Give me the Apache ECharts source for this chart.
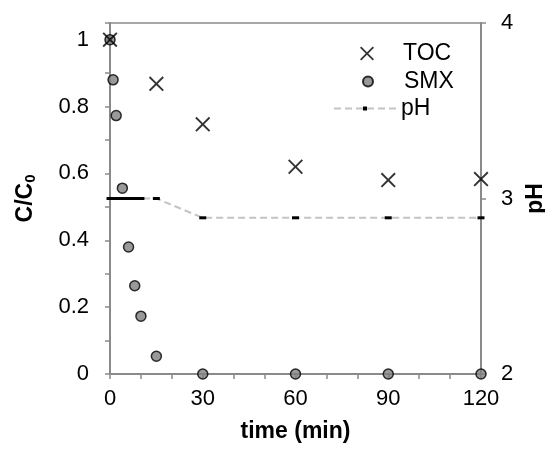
<!DOCTYPE html>
<html>
<head>
<meta charset="utf-8">
<script src="https://cdn.jsdelivr.net/npm/echarts@6/dist/echarts.min.js"></script>
<style>
html,body{margin:0;padding:0;background:#fff;}
#chart{width:545px;height:452px;}
</style>
</head>
<body>
<div id="chart"></div>
<script>
// ---- data ----
const tocTime = [0, 15, 30, 60, 90, 120];
const tocValues = [1.0, 0.868, 0.747, 0.62, 0.58, 0.583];
const smxTime = [0, 1, 2, 4, 6, 8, 10, 15, 30, 60, 90, 120];
const smxValues = [1.0, 0.88, 0.773, 0.556, 0.38, 0.264, 0.173, 0.053, 0, 0, 0, 0];
const phTime = [0, 1, 2, 4, 6, 8, 10, 15, 30, 60, 90, 120];
const phValues = [3.0, 3.0, 3.0, 3.0, 3.0, 3.0, 3.0, 3.0, 2.89, 2.89, 2.89, 2.89];
const xLabelStep = 30;   // x labels every 30 min
const xTickStep = 10;    // x ticks every 10 min
const yLabelStep = 0.2;  // left labels every 0.2
const yTickStep = 0.1;   // left ticks every 0.1

const pairs = (xs, ys) => xs.map((x, i) => [x, ys[i]]);

const FONT = '"Liberation Sans", Arial, sans-serif';
const AXIS = '#8a8a8a';
const XPATH = 'path://M0,9L9,0L50,41L91,0L100,9L59,50L100,91L91,100L50,59L9,100L0,91L41,50Z';
const G = {left: 110, right: 64, top: 23, bottom: 78};

const lineAxis = (extra) => Object.assign({
  type: 'value',
  axisLine: {show: true, onZero: false, lineStyle: {color: AXIS, width: 2}},
  axisTick: {show: true, length: 5, lineStyle: {color: AXIS, width: 1.5}},
  axisLabel: {show: false},
  splitLine: {show: false}
}, extra);
const labelAxis = (extra, labelExtra) => Object.assign({
  type: 'value', gridIndex: 1,
  axisLine: {show: false, onZero: false},
  axisTick: {show: false},
  axisLabel: Object.assign({color: '#000', fontSize: 22, fontFamily: FONT}, labelExtra),
  splitLine: {show: false}
}, extra);
const nameStyle = {fontFamily: FONT, fontSize: 23, fontWeight: 'bold', color: '#000'};

const chart = echarts.init(document.getElementById('chart'), null, {renderer: 'canvas'});
const legendText = {fontFamily: FONT, fontSize: 23, color: '#000'};
chart.setOption({
  animation: false,
  grid: [
    Object.assign({show: true, borderColor: AXIS, borderWidth: 1.5, outerBoundsMode: 'none'}, G),
    Object.assign({show: false, outerBoundsMode: 'none'}, G)
  ],
  legend: [
    {data: [{name: 'TOC', icon: XPATH}], left: 360, top: 42, padding: 0, itemWidth: 62, itemHeight: 14, textStyle: legendText, selectedMode: false},
    {data: ['SMX'], left: 362, top: 70, padding: 0, itemWidth: 62, itemHeight: 10, textStyle: legendText, selectedMode: false},
    {data: ['pH'], left: 333, top: 97, padding: 0, itemWidth: 62, itemHeight: 5, textStyle: legendText, selectedMode: false}
  ],
  xAxis: [
    lineAxis({gridIndex: 0, min: 0, max: 120, interval: xTickStep}),
    labelAxis({min: 0, max: 120, interval: xLabelStep, position: 'bottom',
      name: 'time (min)', nameLocation: 'middle', nameGap: 46, nameTextStyle: nameStyle}, {margin: 14})
  ],
  yAxis: [
    lineAxis({gridIndex: 0, min: 0, max: 1.05, interval: yTickStep, position: 'left'}),
    lineAxis({gridIndex: 0, min: 2, max: 4, interval: 1, position: 'right'}),
    labelAxis({min: 0, max: 1.05, interval: yLabelStep, position: 'left',
      name: '{a|C/C}{b|0}', nameLocation: 'middle', nameGap: 72, nameRotate: 90,
      nameTextStyle: {rich: {
        a: {fontFamily: FONT, fontSize: 23, fontWeight: 'bold', color: '#000'},
        b: {fontFamily: FONT, fontSize: 15, fontWeight: 'bold', color: '#000', verticalAlign: 'bottom', padding: [10, 0, 0, 0]}
      }}}, {margin: 21, showMaxLabel: false}),
    labelAxis({min: 2, max: 4, interval: 1, position: 'right',
      name: 'pH', nameLocation: 'middle', nameGap: 40, nameRotate: 90, nameTextStyle: nameStyle}, {margin: 20})
  ],
  series: [
    {
      name: 'pH', type: 'line', xAxisIndex: 0, yAxisIndex: 1, data: pairs(phTime, phValues),
      symbol: 'rect', symbolSize: [7, 3], showSymbol: true,
      itemStyle: {color: '#000'},
      lineStyle: {color: '#c4c4c4', width: 2, type: [7, 4]},
      clip: false, z: 2
    },
    {
      name: 'SMX', type: 'scatter', xAxisIndex: 0, yAxisIndex: 0, data: pairs(smxTime, smxValues),
      symbol: 'circle', symbolSize: 10,
      itemStyle: {color: '#808080', borderColor: '#000', borderWidth: 1.5},
      clip: false, z: 3
    },
    {
      name: 'TOC', type: 'scatter', xAxisIndex: 0, yAxisIndex: 0, data: pairs(tocTime, tocValues),
      symbol: XPATH, symbolSize: 15,
      itemStyle: {color: '#000'},
      clip: false, z: 4
    }
  ]
});
</script>
</body>
</html>
